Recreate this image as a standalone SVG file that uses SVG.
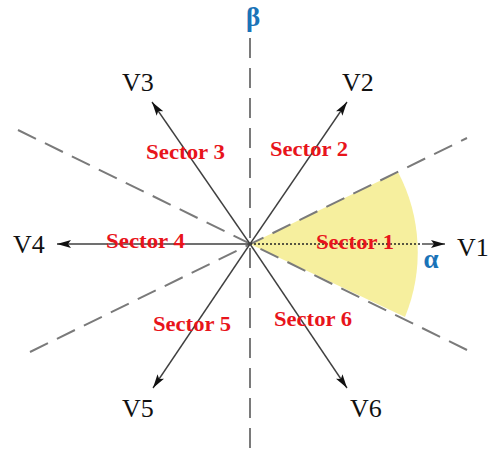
<svg xmlns="http://www.w3.org/2000/svg" width="489" height="457" viewBox="0 0 489 457">
<defs>
<style>
.ax{stroke:#7a7a7a;stroke-width:2;stroke-dasharray:20 10;fill:none}
.vec{stroke:#404040;stroke-width:1.4;fill:none}
.vl{font-family:"Liberation Serif",serif;font-size:26px;fill:#111}
.sl{font-family:"Liberation Serif",serif;font-size:21px;font-weight:bold;fill:#e8141b}
.gr{font-family:"Liberation Serif",serif;font-weight:bold;fill:#1a73b8}
</style>
<marker id="ah" viewBox="0 0 14 8" refX="14" refY="4" markerWidth="14" markerHeight="8" markerUnits="userSpaceOnUse" orient="auto">
<path d="M0,0 L14,4 L0,8 L3,4 Z" fill="#111"/>
</marker>
</defs>
<g id="sector1-area">
<path d="M250,244 L398,172 A172,172 0 0 1 405,317 Z" fill="#f6ef9e"/>
</g>
<g id="connectors">
<line class="ax" x1="250" y1="38" x2="250" y2="457"/>
<line class="ax" x1="18" y1="130" x2="467" y2="350"/>
<line class="ax" x1="30" y1="352" x2="467" y2="138"/>
<line x1="250" y1="244" x2="422" y2="244" stroke="#222" stroke-width="1.3" stroke-dasharray="2 2"/>
<line class="vec" x1="422" y1="244" x2="445" y2="244" marker-end="url(#ah)"/>
<line class="vec" x1="250" y1="244" x2="57" y2="244" marker-end="url(#ah)"/>
<line class="vec" x1="250" y1="244" x2="347" y2="102" marker-end="url(#ah)"/>
<line class="vec" x1="250" y1="244" x2="152" y2="102" marker-end="url(#ah)"/>
<line class="vec" x1="250" y1="244" x2="153" y2="388" marker-end="url(#ah)"/>
<line class="vec" x1="250" y1="244" x2="347" y2="388" marker-end="url(#ah)"/>
</g>
<g id="axis-beta"><text class="gr" x="253" y="26" font-size="27" text-anchor="middle">β</text></g>
<g id="axis-alpha"><text class="gr" x="431" y="268" font-size="27" text-anchor="middle">α</text></g>
<g id="V1"><text class="vl" x="457" y="256">V1</text></g>
<g id="V2"><text class="vl" x="342" y="91">V2</text></g>
<g id="V3"><text class="vl" x="122" y="91">V3</text></g>
<g id="V4"><text class="vl" x="13" y="253">V4</text></g>
<g id="V5"><text class="vl" x="122" y="417">V5</text></g>
<g id="V6"><text class="vl" x="350" y="417">V6</text></g>
<g id="sector1"><text class="sl" x="316" y="249" textLength="78" lengthAdjust="spacingAndGlyphs">Sector 1</text></g>
<g id="sector2"><text class="sl" x="270" y="156" textLength="78" lengthAdjust="spacingAndGlyphs">Sector 2</text></g>
<g id="sector3"><text class="sl" x="146" y="159" textLength="79" lengthAdjust="spacingAndGlyphs">Sector 3</text></g>
<g id="sector4"><text class="sl" x="106" y="248" textLength="79" lengthAdjust="spacingAndGlyphs">Sector 4</text></g>
<g id="sector5"><text class="sl" x="153" y="331" textLength="78" lengthAdjust="spacingAndGlyphs">Sector 5</text></g>
<g id="sector6"><text class="sl" x="274" y="326" textLength="78" lengthAdjust="spacingAndGlyphs">Sector 6</text></g>
</svg>
